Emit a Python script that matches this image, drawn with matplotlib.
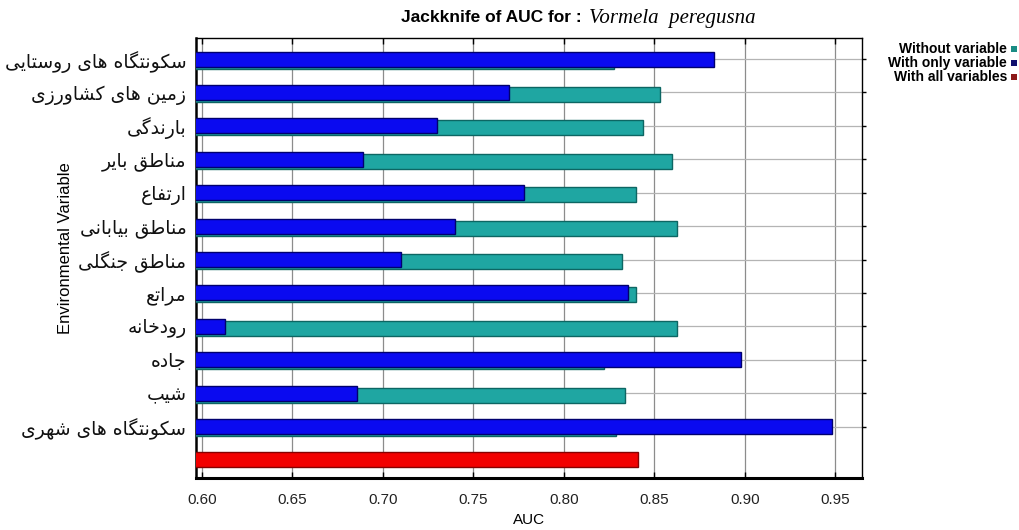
import matplotlib
matplotlib.use("Agg")
import matplotlib.pyplot as plt
from matplotlib.patches import Rectangle

# ---- data -------------------------------------------------------------
variables = [
    "سکونتگاه های روستایی",
    "زمین های کشاورزی",
    "بارندگی",
    "مناطق بایر",
    "ارتفاع",
    "مناطق بیابانی",
    "مناطق جنگلی",
    "مراتع",
    "رودخانه",
    "جاده",
    "شیب",
    "سکونتگاه های شهری",
]
auc_without = [0.828, 0.853, 0.844, 0.860, 0.840, 0.8625,
               0.832, 0.840, 0.8625, 0.822, 0.834, 0.829]
auc_only = [0.883, 0.770, 0.730, 0.689, 0.778, 0.740,
            0.710, 0.8355, 0.613, 0.898, 0.686, 0.948]
auc_all = 0.841
x_ticks = [0.60, 0.65, 0.70, 0.75, 0.80, 0.85, 0.90, 0.95]
x_tick_labels = ["0.60", "0.65", "0.70", "0.75", "0.80", "0.85", "0.90", "0.95"]
legend_labels = ["Without variable", "With only variable", "With all variables"]

# ---- Arabic-script shaping (matplotlib lays text out LTR, no joining) --
_FORMS = {
    "ا": ("\uFE8D", "\uFE8E", None, None),
    "ب": ("\uFE8F", "\uFE90", "\uFE91", "\uFE92"),
    "ت": ("\uFE95", "\uFE96", "\uFE97", "\uFE98"),
    "ج": ("\uFE9D", "\uFE9E", "\uFE9F", "\uFEA0"),
    "خ": ("\uFEA5", "\uFEA6", "\uFEA7", "\uFEA8"),
    "د": ("\uFEA9", "\uFEAA", None, None),
    "ر": ("\uFEAD", "\uFEAE", None, None),
    "ز": ("\uFEAF", "\uFEB0", None, None),
    "س": ("\uFEB1", "\uFEB2", "\uFEB3", "\uFEB4"),
    "ش": ("\uFEB5", "\uFEB6", "\uFEB7", "\uFEB8"),
    "ط": ("\uFEC1", "\uFEC2", "\uFEC3", "\uFEC4"),
    "ع": ("\uFEC9", "\uFECA", "\uFECB", "\uFECC"),
    "ف": ("\uFED1", "\uFED2", "\uFED3", "\uFED4"),
    "ق": ("\uFED5", "\uFED6", "\uFED7", "\uFED8"),
    "ل": ("\uFEDD", "\uFEDE", "\uFEDF", "\uFEE0"),
    "م": ("\uFEE1", "\uFEE2", "\uFEE3", "\uFEE4"),
    "ن": ("\uFEE5", "\uFEE6", "\uFEE7", "\uFEE8"),
    "ه": ("\uFEE9", "\uFEEA", "\uFEEB", "\uFEEC"),
    "و": ("\uFEED", "\uFEEE", None, None),
    "ک": ("\uFB8E", "\uFB8F", "\uFB90", "\uFB91"),
    "گ": ("\uFB92", "\uFB93", "\uFB94", "\uFB95"),
    "ی": ("\uFBFC", "\uFBFD", "\uFBFE", "\uFBFF"),
}


def shape_rtl(text):
    out = []
    n = len(text)
    for i, ch in enumerate(text):
        if ch not in _FORMS:
            out.append(ch)
            continue
        iso, fin, ini, med = _FORMS[ch]
        prev = text[i - 1] if i > 0 else ""
        nxt = text[i + 1] if i + 1 < n else ""
        join_prev = prev in _FORMS and _FORMS[prev][2] is not None
        join_next = ini is not None and nxt in _FORMS
        if join_prev and join_next:
            out.append(med)
        elif join_prev:
            out.append(fin)
        elif join_next:
            out.append(ini)
        else:
            out.append(iso)
    return "".join(reversed(out))


# ---- figure -----------------------------------------------------------
W, H = 1019, 530
fig = plt.figure(figsize=(W / 100, H / 100), dpi=100)
fig.patch.set_facecolor("white")
ax = fig.add_axes([196 / W, 1 - 478 / H, (862 - 196) / W, (478 - 38) / H])

n = len(variables)
rows = list(range(n))
bar_h = 0.45

col_teal, edge_teal = "#1fa6a2", "#0d6663"
col_blue, edge_blue = "#0a0af0", "#00006e"
col_red, edge_red = "#f20000", "#860000"

ax.barh([r + 0.06 for r in rows], auc_without, height=bar_h, color=col_teal,
        edgecolor=edge_teal, linewidth=1.0, zorder=3)
ax.barh(rows, auc_only, height=bar_h, color=col_blue,
        edgecolor=edge_blue, linewidth=1.0, zorder=4)
ax.barh([n], [auc_all], height=bar_h, color=col_red,
        edgecolor=edge_red, linewidth=1.0, zorder=4)

ax.set_xlim(0.5968, 0.9648)
ax.set_ylim(n + 0.54, -0.63)

ax.set_xticks(x_ticks)
ax.set_xticklabels(x_tick_labels, family="Liberation Sans", fontsize=11,
                   color="#222222")
ax.tick_params(axis="x", direction="in", top=True, length=4, width=1.0,
               pad=11)

ax.set_yticks(rows)
ax.set_yticklabels([shape_rtl(v) for v in variables], family="DejaVu Sans",
                   fontsize=13.5, color="#111111")
ax.tick_params(axis="y", left=False, right=True, direction="out", length=3,
               width=1.0, pad=4)

# grid behind the bars
for xt in x_ticks:
    ax.axvline(xt, color="#8c8c8c", lw=0.9, zorder=1)
for r in rows:
    ax.axhline(r, color="#b4b4b4", lw=0.9, zorder=1)

for side, lw in (("left", 1.8), ("bottom", 2.2), ("top", 1.0), ("right", 1.0)):
    ax.spines[side].set_linewidth(lw)
    ax.spines[side].set_color("black")

ax.set_xlabel("AUC", family="Liberation Sans", fontsize=11, labelpad=4)
fig.text(65 / W, 1 - 248 / H, "Environmental Variable", rotation=90,
         family="Liberation Sans", fontsize=12, ha="center", va="center")

# title: bold sans prefix + italic serif species name
fig.text(582 / W, 1 - 18 / H, "Jackknife of AUC for :", family="Liberation Sans",
         fontweight="bold", fontsize=12.5, ha="right", va="center")
fig.text(589 / W, 1 - 18 / H, "Vormela  peregusna", family="Liberation Serif",
         style="italic", fontsize=15, ha="left", va="center")

# legend at the right margin
leg_colors = ["#1a8c84", "#10106e", "#8c1818"]
for i, (lab, c) in enumerate(zip(legend_labels, leg_colors)):
    yc = 49 + i * 14
    fig.text(1007 / W, 1 - yc / H, lab, family="Liberation Sans", fontsize=10,
             fontweight="bold", ha="right", va="center")
    fig.add_artist(Rectangle(((1011) / W, 1 - (yc + 3) / H), 6 / W, 6 / H,
                             transform=fig.transFigure, color=c, lw=0))

fig.savefig("out.png", dpi=100)
